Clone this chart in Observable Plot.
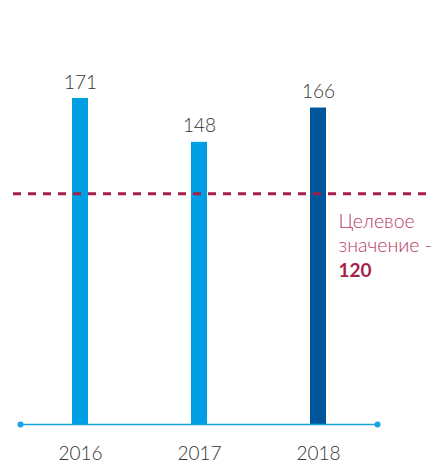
<!DOCTYPE html>
<html><head><meta charset="utf-8">
<script src="https://cdn.jsdelivr.net/npm/d3@7"></script>
<script src="https://cdn.jsdelivr.net/npm/@observablehq/plot@0.6"></script>
<style>body{margin:0;background:#fff}</style>
</head><body><div id="chart"></div>
<script>
const years = ["2016", "2017", "2018"];
const values = [171, 148, 166];
const highlightYear = "2018";
const target = 120;
const targetLines = ["Целевое", "значение -"];
const targetLabel = "120";

const data = years.map((y, i) => ({year: y, value: values[i]}));
const light = "#009fe3", dark = "#00569a", wine = "#a51f4c";
const font = "Lato, 'Open Sans', sans-serif";

const chart = Plot.plot({
  width: 436, height: 463,
  marginLeft: 13, marginRight: 6, marginTop: 0, marginBottom: 39,
  style: {fontFamily: font, background: "#fff"},
  x: {domain: years, range: [20, 377], paddingInner: 0.866, paddingOuter: 0.433, align: 0.5},
  y: {domain: [0, 171], range: [424, 98]},
  marks: [
    Plot.barY(data, {x: "year", y: "value", fill: d => d.year === highlightYear ? dark : light}),
    Plot.text(data, {x: "year", y: "value", text: d => String(d.value), dy: -16, fontSize: 19, fill: "#333", fontWeight: 300}),
    Plot.ruleY([0], {stroke: "#1aa3e0", strokeWidth: 1.5, insetLeft: 7, insetRight: 53}),
    Plot.dot([0], {y: () => 0, frameAnchor: "left", dx: 7, r: 3, fill: "#1aa3e0", stroke: null}),
    Plot.dot([0], {y: () => 0, frameAnchor: "right", dx: -53, r: 3, fill: "#1aa3e0", stroke: null}),
    Plot.ruleY([target], {stroke: wine, strokeWidth: 3, strokeDasharray: "8,7", dy: -2}),
    Plot.text([targetLines[0]], {x: () => highlightYear, y: () => target, text: d => d, dx: 20, dy: 26, textAnchor: "start", fill: "#b83a63", fontSize: 19.5, fontWeight: 300}),
    Plot.text([targetLines[1]], {x: () => highlightYear, y: () => target, text: d => d, dx: 20, dy: 50, textAnchor: "start", fill: "#b83a63", fontSize: 19.5, fontWeight: 300}),
    Plot.text([targetLabel], {x: () => highlightYear, y: () => target, text: d => d, dx: 20, dy: 75, textAnchor: "start", fill: wine, fontSize: 19, fontWeight: "bold"}),
    Plot.axisX({tickSize: 0, tickPadding: 22, fontSize: 19, color: "#333", fontWeight: 300, label: null}),
    Plot.axisY({ticks: [], label: null})
  ]
});
document.getElementById("chart").append(chart);
</script></body></html>
